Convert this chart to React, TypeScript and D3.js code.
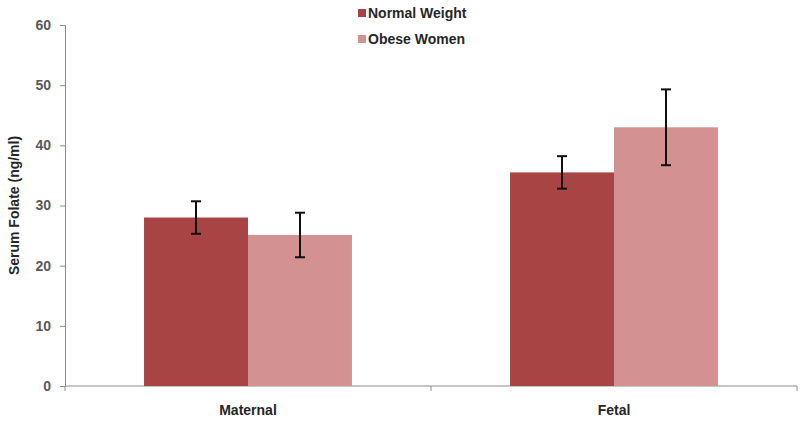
import React, { useRef, useEffect } from 'react';
import * as d3 from 'd3';

const categories = ['Maternal', 'Fetal'];
const seriesNames = ['Normal Weight', 'Obese Women'];
const normalValues = [28, 35.5];
const normalErrors = [2.7, 2.7];
const obeseValues = [25.1, 43];
const obeseErrors = [3.7, 6.3];
const yTicks = [0, 10, 20, 30, 40, 50, 60];
const colors = ['#a94444', '#d49192'];

function App() {
  const svgRef = useRef<SVGSVGElement>(null);

  useEffect(() => {
    const svg = d3.select(svgRef.current);
    svg.selectAll('*').remove();
    const width = 800;
    const height = 421;
    const margin = { top: 25, right: 3, bottom: 35, left: 65 };

    const x = d3.scaleBand()
      .domain(categories)
      .range([margin.left, width - margin.right]);

    const x1 = d3.scaleBand()
      .domain(seriesNames)
      .range([0, x.bandwidth()])
      .paddingOuter(0.76)
      .paddingInner(0);

    const y = d3.scaleLinear()
      .domain([0, 60])
      .range([height - margin.bottom, margin.top]);

    // y axis
    const yAxis = svg.append('g')
      .attr('transform', `translate(${margin.left},0)`)
      .call(d3.axisLeft(y).tickValues(yTicks).tickSize(5).tickPadding(9));
    yAxis.selectAll('line, path').attr('stroke', '#8c8c8c');
    yAxis.selectAll('text')
      .attr('fill', '#595959')
      .style('font', 'bold 14px "Liberation Sans", Arial, sans-serif');

    // x axis
    const xAxisG = svg.append('g')
      .attr('transform', `translate(0,${y(0)})`);
    xAxisG.append('line')
      .attr('x1', margin.left).attr('x2', width - margin.right)
      .attr('stroke', '#8c8c8c');
    const bounds = [margin.left, ...categories.map(c => (x(c) as number) + x.bandwidth())];
    xAxisG.selectAll('.tk').data(bounds).enter().append('line')
      .attr('x1', d => d).attr('x2', d => d)
      .attr('y1', 0).attr('y2', 5)
      .attr('stroke', '#8c8c8c');
    xAxisG.selectAll('.lbl').data(categories).enter().append('text')
      .attr('x', d => (x(d) as number) + x.bandwidth() / 2)
      .attr('y', 24)
      .attr('dy', '0.35em')
      .attr('text-anchor', 'middle')
      .attr('fill', '#262626')
      .style('font', 'bold 14px "Liberation Sans Narrow", "Liberation Sans", Arial, sans-serif')
      .text(d => d);

    // y label
    svg.append('text')
      .attr('transform', `translate(19,${(y(0) + y(60)) / 2}) rotate(-90)`)
      .attr('text-anchor', 'middle')
      .attr('fill', '#262626')
      .style('font', 'bold 14px "Liberation Sans", Arial, sans-serif')
      .text('Serum Folate (ng/ml)');

    const seriesData = [
      { name: seriesNames[0], values: normalValues, errors: normalErrors, color: colors[0] },
      { name: seriesNames[1], values: obeseValues, errors: obeseErrors, color: colors[1] },
    ];

    seriesData.forEach(s => {
      const g = svg.append('g');
      g.selectAll('rect').data(categories).enter().append('rect')
        .attr('x', (c) => (x(c) as number) + (x1(s.name) as number))
        .attr('y', (c, i) => y(s.values[i]))
        .attr('width', x1.bandwidth())
        .attr('height', (c, i) => y(0) - y(s.values[i]))
        .attr('fill', s.color);

      categories.forEach((c, i) => {
        const cx = (x(c) as number) + (x1(s.name) as number) + x1.bandwidth() / 2;
        const top = y(s.values[i] + s.errors[i]);
        const bot = y(s.values[i] - s.errors[i]);
        g.append('line').attr('x1', cx).attr('x2', cx).attr('y1', top).attr('y2', bot)
          .attr('stroke', '#111').attr('stroke-width', 2);
        [top, bot].forEach(yy => {
          g.append('line').attr('x1', cx - 5).attr('x2', cx + 5).attr('y1', yy).attr('y2', yy)
            .attr('stroke', '#111').attr('stroke-width', 2);
        });
      });
    });

    // legend
    const legend = svg.append('g').attr('transform', 'translate(358,13)');
    seriesData.forEach((s, i) => {
      legend.append('rect')
        .attr('x', 0).attr('y', i * 26 - 4)
        .attr('width', 8).attr('height', 8)
        .attr('fill', s.color);
      legend.append('text')
        .attr('x', 10).attr('y', i * 26)
        .attr('dy', '0.35em')
        .attr('fill', '#262626')
        .style('font', 'bold 14px "Liberation Sans", Arial, sans-serif')
        .text(s.name);
    });
  }, []);

  return (
    <svg ref={svgRef} width={800} height={421}
      style={{ position: 'absolute', left: 0, top: 0, display: 'block', background: '#fff' }}></svg>
  );
}

export default App;
